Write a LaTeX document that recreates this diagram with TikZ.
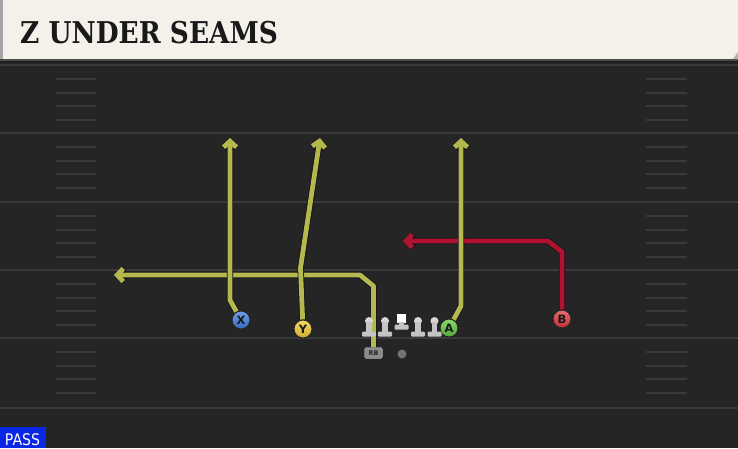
\documentclass[tikz,border=0pt]{standalone}
\usepackage{fontspec}
\setmainfont{DejaVu Sans}
\newfontfamily\titlefont{DejaVu Serif}
\usetikzlibrary{arrows.meta}
\pgfdeclarelayer{bg}
\pgfdeclarelayer{routes}
\pgfsetlayers{bg,routes,main}
\definecolor{field}{HTML}{252525}
\definecolor{cream}{HTML}{F4F1EA}
\definecolor{yardc}{HTML}{3A3A3A}
\definecolor{hashc}{HTML}{3A3A3A}
\definecolor{routeY}{HTML}{B5B84C}
\definecolor{routeR}{HTML}{B11230}
\definecolor{outl}{HTML}{12121F}
\definecolor{xblue}{HTML}{3F7FE0}
\definecolor{yyellow}{HTML}{F5CB35}
\definecolor{agreen}{HTML}{63C83F}
\definecolor{bred}{HTML}{E0393F}
\definecolor{passblue}{HTML}{0B27E6}
\definecolor{linec}{HTML}{C4C4C4}
\begin{document}
\begin{tikzpicture}[x=1pt,y=-1pt,
  yardline/.style={draw=yardc, line width=2pt},
  hashline/.style={draw=hashc, line width=1.6pt},
  route/.style={line width=4.8pt, line join=round,
    -{Straight Barb[length=6pt,width=13pt]},
    preaction={draw=outl, line width=6.4pt}},
  yroute/.style={route, draw=routeY},
  rroute/.style={route, draw=routeR},
  player/.style={circle, minimum size=18pt, inner sep=0pt, draw=black!85,
    line width=1pt, font=\bfseries\fontsize{11.5}{11.5}\selectfont, text=black!90},
  lineman/.pic={
    \fill[linec!70!white] (0,-1) circle (4);
    \fill[linec] (-2.7,0) rectangle (2.7,10);
    \fill[linec, rounded corners=1pt] (-7,9.5) rectangle (7,14.5);
  },
  centerman/.pic={
    \fill[white] (-4.5,-4.5) rectangle (4.5,4.5);
    \fill[linec] (-2.7,4) rectangle (2.7,8);
    \fill[linec, rounded corners=1pt] (-7,6.5) rectangle (7,11.5);
  }]
\useasboundingbox (0,0) rectangle (738,448);
\begin{pgfonlayer}{bg}
\fill[field] (0,0) rectangle (738,448);
% title bar
\fill[black!88] (0,57) rectangle (738,63);
\fill[black!70] (0,59) rectangle (738,61);
\fill[cream] (0,0) rectangle (738,59);
\fill[gray!70] (0,0) rectangle (3,59);
\fill[gray!60] (733,59) -- (738,52) -- (738,59) -- cycle;
% yard lines
\foreach \y in {65,133,202,270,338,408} \draw[yardline] (0,\y) -- (738,\y);
% hash marks
\foreach \b in {65,133,202,270,338} {
  \foreach \o in {14,28,41,55} {
    \draw[hashline] (56,\b+\o) -- (96,\b+\o);
    \draw[hashline] (646,\b+\o) -- (687,\b+\o);
  }
}
% PASS
\fill[passblue] (0,427) rectangle (46,448);
\end{pgfonlayer}
\node[anchor=base west, inner sep=0pt, text=black!90,
  font=\titlefont\bfseries\fontsize{30}{30}\selectfont] (title) at (20,43)
  {\scalebox{0.88}[1]{Z UNDER SEAMS}};
\node[text=white, inner sep=0pt, anchor=base, font=\fontsize{16}{16}\selectfont] (pass) at (22.5,445)
  {\scalebox{0.88}[1]{PASS}};
% players
\node[player, top color=xblue!75!white, bottom color=xblue!85!black] (X) at (241,320) {X};
\node[player, top color=yyellow!75!white, bottom color=yyellow!85!black] (Y) at (303,329) {Y};
\node[player, top color=agreen!75!white, bottom color=agreen!85!black] (A) at (449,328) {A};
\node[player, top color=bred!75!white, bottom color=bred!85!black] (B) at (562,319) {B};
\node[draw=black!25, fill=black!45, rounded corners=2.5pt, minimum width=18pt,
  minimum height=11pt, inner sep=0pt, font=\bfseries\fontsize{6.5}{6.5}\selectfont,
  text=black!85] (RB) at (373.5,353) {RB};
\node[circle, fill=black!55, minimum size=9pt, inner sep=0pt] (QB) at (402,354) {};
% line
\pic at (369,322) {lineman};
\pic at (385,322) {lineman};
\pic at (401.5,318) {centerman};
\pic at (418,322) {lineman};
\pic at (434.5,322) {lineman};
% waypoints
\coordinate (xc) at (230,300);
\coordinate (xt) at (230,138);
\coordinate (yc) at (300.5,268);
\coordinate (yt) at (320,138);
\coordinate (z1) at (373.5,286);
\coordinate (z2) at (360,275);
\coordinate (zt) at (114,275);
\coordinate (ac) at (461,306);
\coordinate (at) at (461,138);
\coordinate (b1) at (562,252);
\coordinate (b2) at (548,241);
\coordinate (bt) at (403,241);
% routes
\begin{pgfonlayer}{routes}
\draw[yroute] (RB) -- (z1) -- (z2) -- (zt);
\draw[yroute] (X) -- (xc) -- (xt);
\draw[yroute] (Y) -- (yc) -- (yt);
\draw[rroute] (B) -- (b1) -- (b2) -- (bt);
\draw[yroute] (A) -- (ac) -- (at);
\end{pgfonlayer}
\end{tikzpicture}
\end{document}
